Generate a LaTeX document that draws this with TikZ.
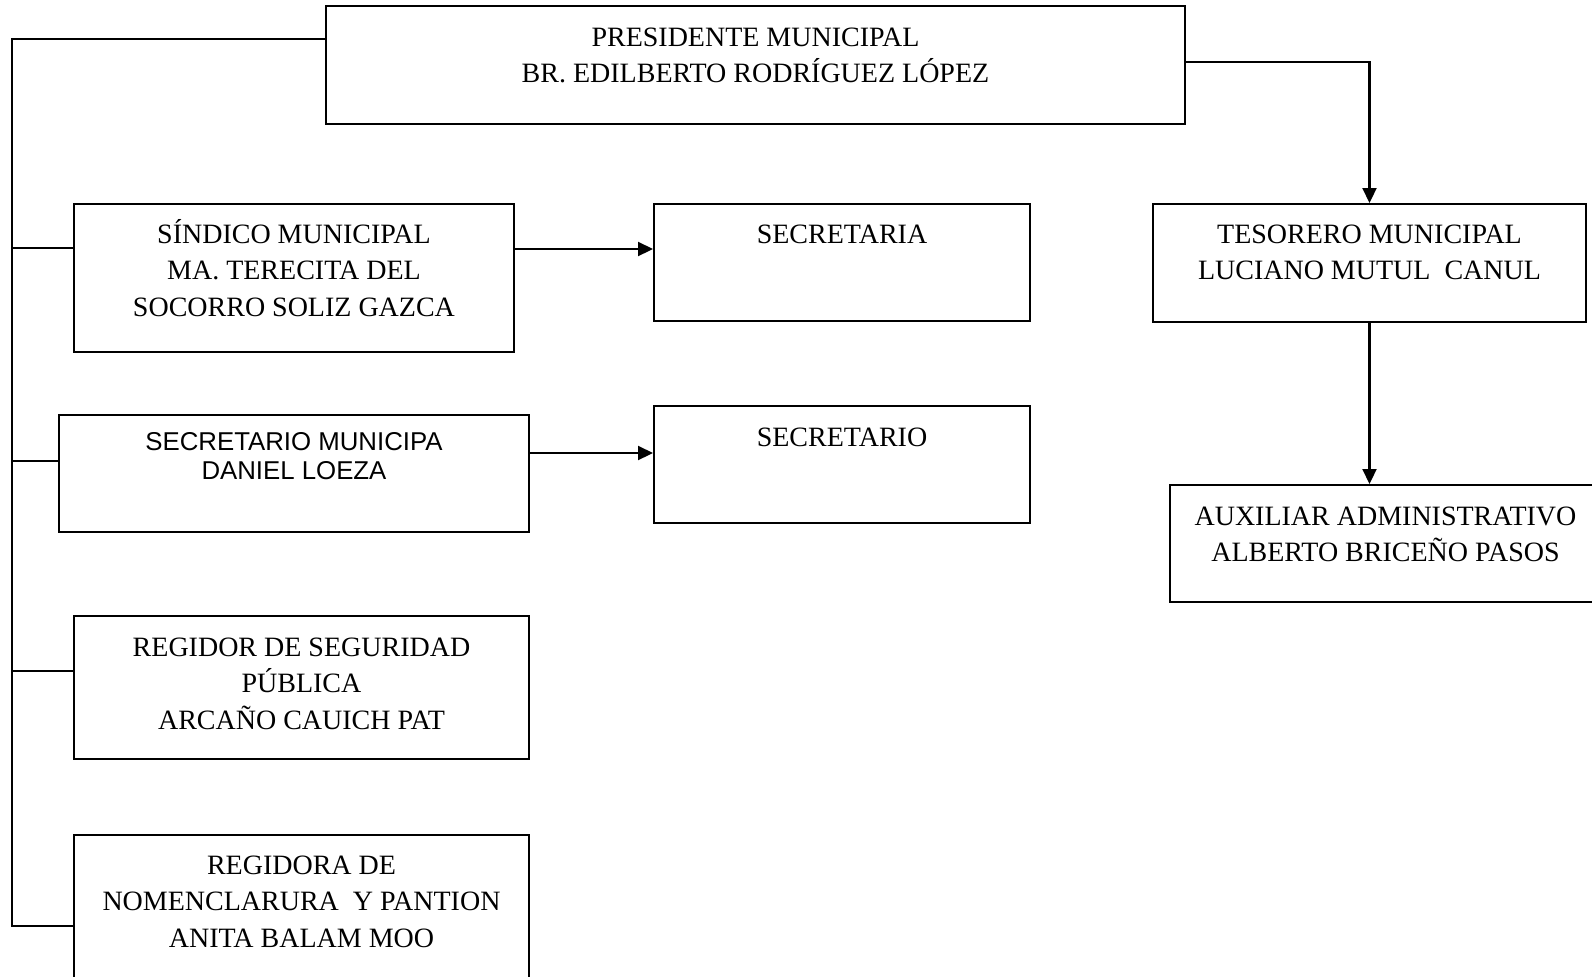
\documentclass[tikz,border=0pt]{standalone}
\usepackage{fontspec}
\setmainfont{Liberation Serif}
\setsansfont{Liberation Sans}
\usetikzlibrary{arrows.meta,positioning}

% box with its text set at the top
\newcommand{\cajatexto}[4][20pt]{\parbox[t][#3][t]{#2}{\centering\rule{0pt}{#1}#4}}

\tikzset{
  caja/.style={draw, line width=1pt, inner sep=0pt, anchor=north west},
  linea/.style={line width=1.1pt},
  flecha/.style={line width=1.1pt, -{Triangle[length=7.5pt,width=7pt]}}
}

\begin{document}
\begin{tikzpicture}[x=0.5pt, y=-0.5pt,
  every node/.style={font=\fontsize{14}{18.25}\selectfont}]
  \useasboundingbox (0,0) rectangle (1592,976);

  \node[caja] (pres) at (325,5)   {\cajatexto{429.5pt}{59pt}{PRESIDENTE MUNICIPAL\\BR. EDILBERTO RODRÍGUEZ LÓPEZ}};
  \node[caja] (sind) at (73,203)  {\cajatexto[19.5pt]{220pt}{74pt}{SÍNDICO MUNICIPAL\\MA. TERECITA DEL\\SOCORRO SOLIZ GAZCA}};
  \node[caja] (secA) at (653,203) {\cajatexto[19.5pt]{188pt}{58.5pt}{SECRETARIA}};
  \node[caja] (secM) at (58,414)  {\cajatexto[17.5pt]{235pt}{58.5pt}{\fontsize{12.9}{14.7}\sffamily\selectfont SECRETARIO MUNICIPA\\DANIEL LOEZA}};
  \node[caja] (secO) at (653,405) {\cajatexto{188pt}{58.5pt}{SECRETARIO}};
  \node[caja] (teso) at (1152,203){\cajatexto[19.5pt]{216.5pt}{59pt}{TESORERO MUNICIPAL\\LUCIANO MUTUL\ \ CANUL}};
  \node[caja] (aux)  at (1169,484){\cajatexto{215.5pt}{58.5pt}{AUXILIAR ADMINISTRATIVO\\ALBERTO BRICEÑO PASOS}};
  \node[caja] (regS) at (73,615)  {\cajatexto{227.5pt}{71.5pt}{REGIDOR DE SEGURIDAD\\PÚBLICA\\ARCAÑO CAUICH PAT}};
  \node[caja] (regN) at (73,834)  {\cajatexto[19.5pt]{227.5pt}{80pt}{REGIDORA DE\\NOMENCLARURA\ \ Y PANTION\\ANITA BALAM MOO}};

  % left bus
  \coordinate (bus) at (12,39);
  \coordinate (busfin) at (12,926);
  \draw[linea] (pres.west |- bus) -- (bus) -- (busfin) -- (regN.west |- busfin);
  \draw[linea] (bus |- 0,248) -- (sind.west |- 0,248);
  \draw[linea] (bus |- 0,461) -- (secM.west |- 0,461);
  \draw[linea] (bus |- 0,671) -- (regS.west |- 0,671);

  % arrows
  \draw[flecha] (sind.east |- 0,249) -- (secA.west |- 0,249);
  \draw[flecha] (secM.east |- 0,453) -- (secO.west |- 0,453);
  \draw[flecha] (pres.east |- 0,62) -| (teso.north);
  \draw[flecha] (teso.south) -- (teso.south |- aux.north);
\end{tikzpicture}
\end{document}
